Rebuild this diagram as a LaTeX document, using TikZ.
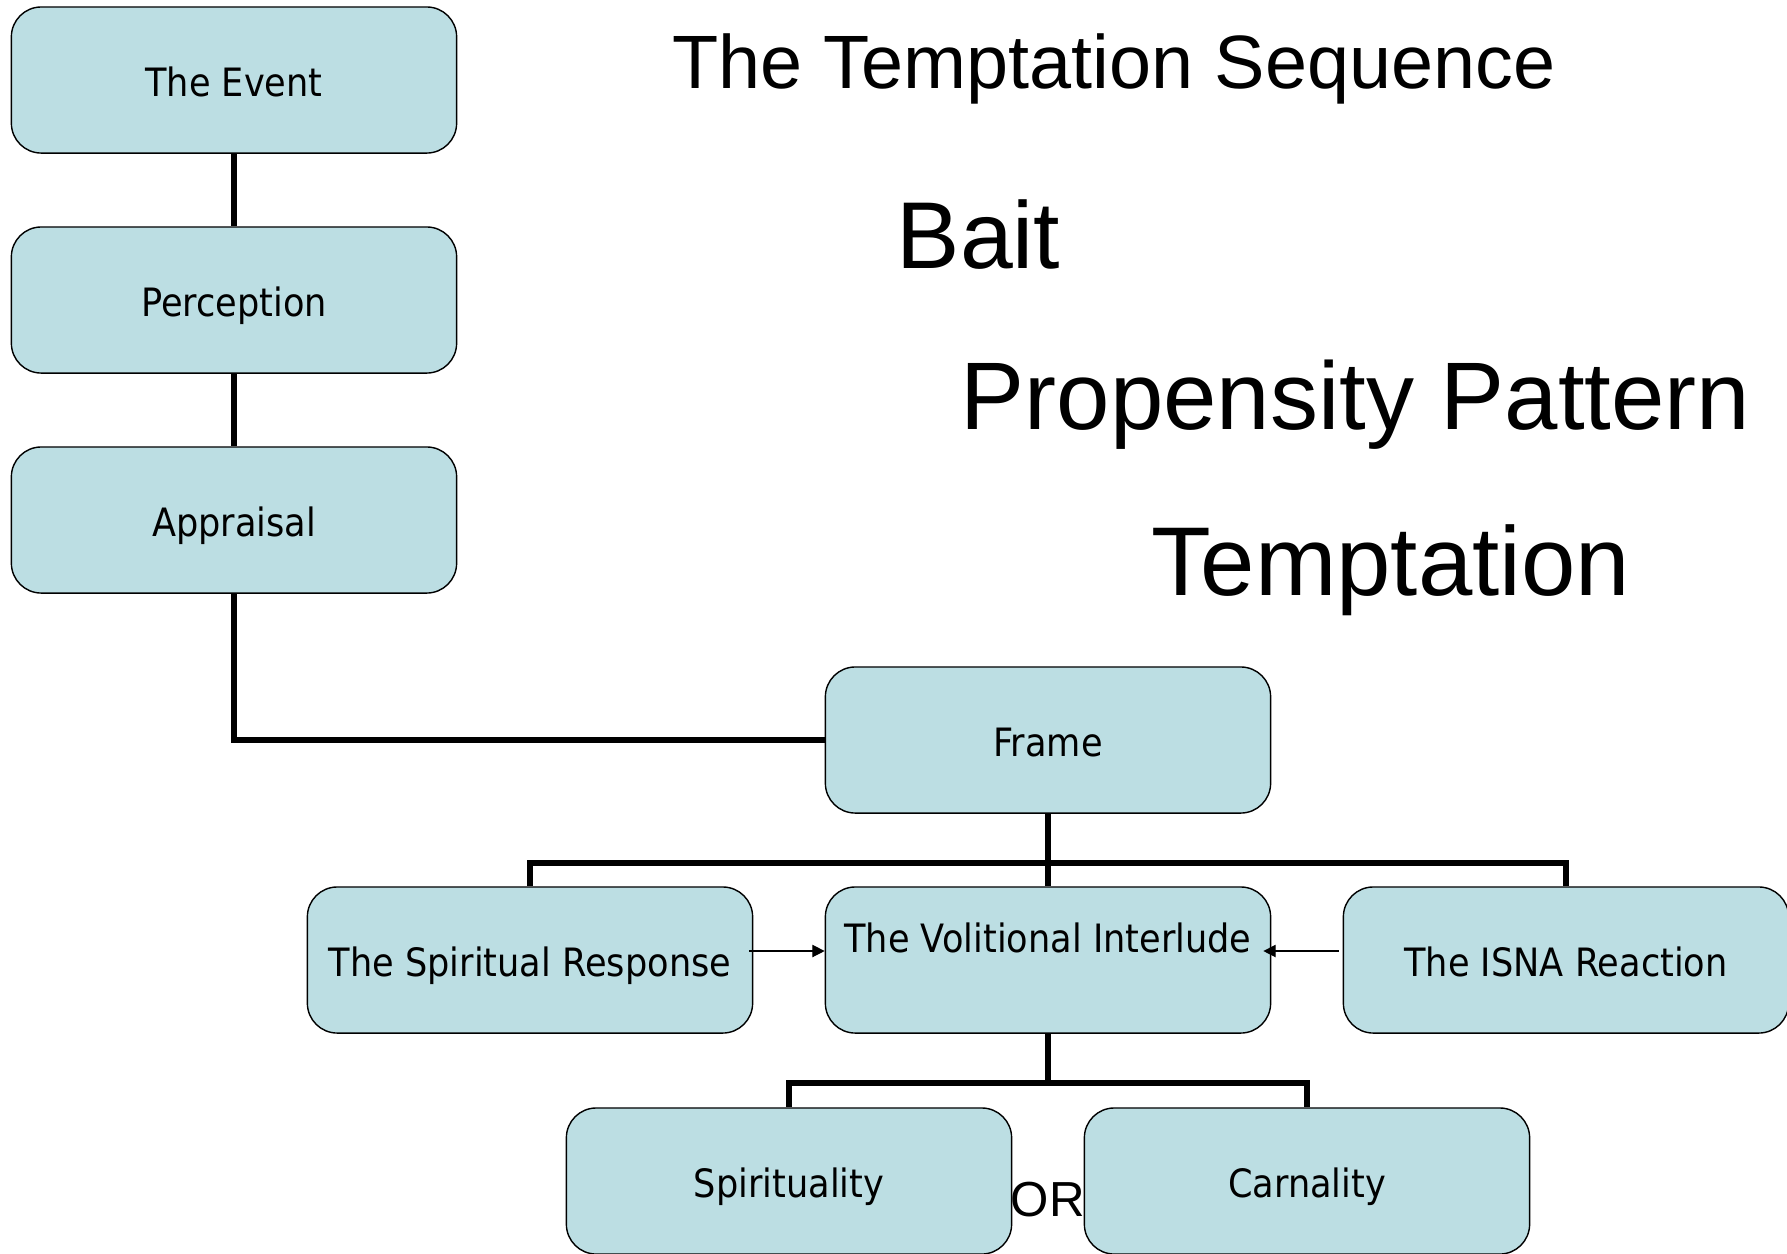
\documentclass[tikz,border=0pt]{standalone}
\usepackage{fontspec}
\setmainfont{Liberation Sans}
\newfontfamily\boxfont[FakeStretch=0.9]{DejaVu Sans}
\usetikzlibrary{arrows.meta}
\definecolor{boxblue}{RGB}{188,222,227}
\tikzset{
  box/.style={draw, line width=0.4pt, fill=boxblue, rounded corners=8.5pt,
    minimum width=4.45cm, minimum height=1.46cm, inner sep=0pt,
    text height=9.2pt, text depth=0pt, font=\boxfont\fontsize{11.1}{13}\selectfont},
  link/.style={line width=1.6pt},
  arrow/.style={line width=0.35pt, -{Triangle[length=3.5pt,width=3.5pt]}},
  heading/.style={anchor=base west, inner sep=0pt}
}
\begin{document}
\begin{tikzpicture}[x=0.01cm, y=-0.01cm]
        \useasboundingbox (0,0) rectangle (1787,1253);

        % Titles
        \node[heading, font=\fontsize{21.5}{24}\selectfont] (title) at (672,88) {The Temptation Sequence};
        \node[heading, font=\fontsize{27}{30}\selectfont] (bait) at (896,268) {Bait};
        \node[heading, font=\fontsize{27.3}{30}\selectfont] (propensity) at (960,429) {Propensity Pattern};
        \node[heading, font=\fontsize{27.8}{30}\selectfont] (temptation) at (1151,595) {Temptation};

        % Left column
        \node[box] (event) at (234,80) {The Event};
        \node[box] (perception) at (234,300) {Perception};
        \node[box] (appraisal) at (234,520) {Appraisal};

        % Frame and its three branches
        \node[box] (frame) at (1048,740) {Frame};
        \node[box] (response) at (530,960) {The Spiritual Response};
        \node[box, text depth=13.2pt] (interlude) at (1048,960) {The Volitional Interlude};
        \node[box] (reaction) at (1566,960) {The ISNA Reaction};

        % Outcomes
        \node[box] (spirituality) at (789,1181) {Spirituality};
        \node[box] (carnality) at (1307,1181) {Carnality};
        \node[heading, font=\fontsize{14}{16}\selectfont] (or) at (1010,1216) {OR};

        % Connectors
        \draw[link] (event) -- (perception);
        \draw[link] (perception) -- (appraisal);
        \draw[link] (appraisal.south) |- (frame.west);
        \draw[link] (frame.south) -- ++(0,49) -| (response.north);
        \draw[link] (frame.south) -- ++(0,49) -| (reaction.north);
        \draw[link] (frame) -- (interlude);
        \draw[link] (interlude.south) -- ++(0,49) -| (spirituality.north);
        \draw[link] (interlude.south) -- ++(0,49) -| (carnality.north);

        % Side arrows into the interlude
        \draw[arrow] ([xshift=-0.04cm, yshift=0.09cm]response.east) -- ([yshift=0.09cm]interlude.west);
        \draw[arrow] ([xshift=-0.04cm, yshift=0.09cm]reaction.west) -- ([xshift=-0.08cm, yshift=0.09cm]interlude.east);
\end{tikzpicture}
\end{document}
